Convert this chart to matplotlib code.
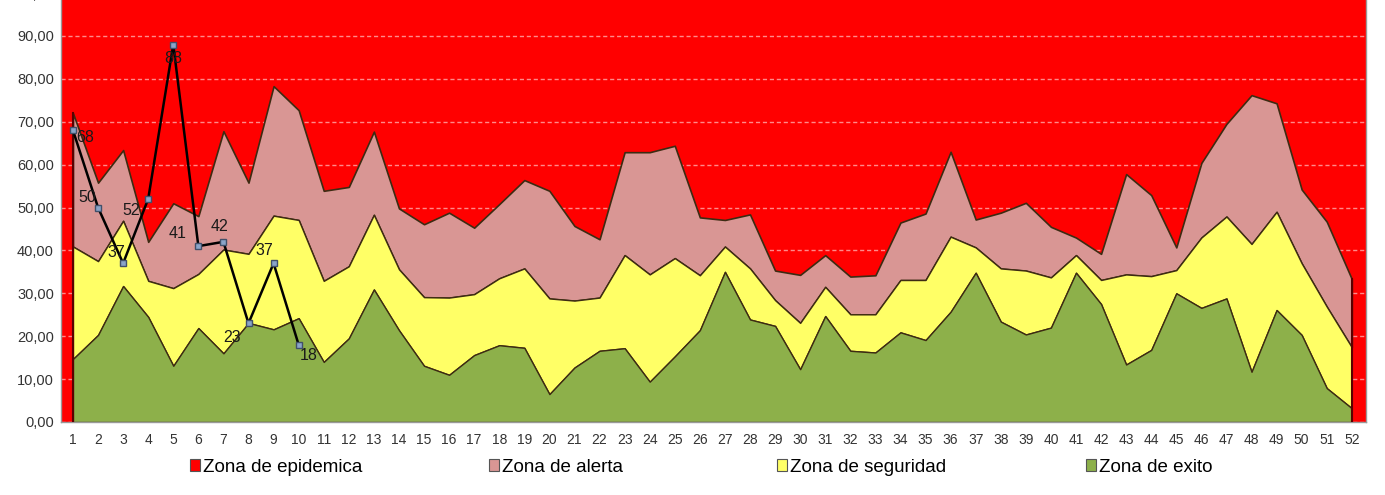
import matplotlib
matplotlib.use("Agg")
import matplotlib.pyplot as plt
from matplotlib.patches import Patch

plt.rcParams['font.family'] = ['Liberation Sans', 'DejaVu Sans']

# semanas epidemiologicas
weeks = list(range(1, 53))

# limites del canal endemico (valores acumulados)
exito = [14.7, 20.3, 31.7, 24.5, 13.1, 21.9, 16.0, 23.1, 21.6, 24.2,
         14.0, 19.5, 30.9, 21.4, 13.1, 11.0, 15.6, 17.9, 17.3, 6.5,
         12.7, 16.6, 17.2, 9.4, 15.3, 21.4, 35.0, 23.9, 22.4, 12.3,
         24.7, 16.6, 16.2, 20.9, 19.1, 25.7, 34.8, 23.4, 20.4, 22.0,
         34.8, 27.5, 13.4, 16.8, 30.0, 26.6, 28.8, 11.7, 26.1, 20.3,
         7.9, 3.2]
seguridad = [40.9, 37.5, 46.9, 32.9, 31.2, 34.5, 40.2, 39.2, 48.1, 47.1,
             32.9, 36.3, 48.3, 35.6, 29.1, 29.0, 29.8, 33.5, 35.8, 28.8,
             28.3, 29.0, 38.9, 34.4, 38.2, 34.2, 40.9, 35.8, 28.4, 23.1,
             31.5, 25.1, 25.1, 33.1, 33.1, 43.2, 40.7, 35.8, 35.3, 33.7,
             38.9, 33.1, 34.4, 34.0, 35.4, 43.0, 47.9, 41.5, 49.0, 37.0,
             26.9, 17.4]
alerta = [72.0, 55.8, 63.4, 42.0, 51.0, 48.0, 67.8, 55.8, 78.3, 72.7,
          53.9, 54.8, 67.7, 49.8, 46.1, 48.8, 45.3, 50.8, 56.4, 53.9,
          45.7, 42.6, 62.9, 62.9, 64.4, 47.7, 47.1, 48.4, 35.3, 34.3,
          38.9, 33.9, 34.2, 46.5, 48.6, 63.0, 47.2, 48.8, 51.1, 45.5,
          43.0, 39.2, 57.8, 52.9, 40.7, 60.4, 69.5, 76.2, 74.3, 54.2,
          46.7, 33.3]

# casos notificados
case_weeks = [1, 2, 3, 4, 5, 6, 7, 8, 9, 10]
casos = [68, 50, 37, 52, 88, 41, 42, 23, 37, 18]

labels = ['Zona de epidemica', 'Zona de alerta', 'Zona de seguridad', 'Zona de exito']
colors = ['#ff0000', '#d99694', '#ffff66', '#8db04a']

fig = plt.figure(figsize=(13.85, 4.95), dpi=100)
ax = fig.add_axes([0.044, 0.1475, 0.942, 0.8665])
ax.set_facecolor(colors[0])

edge = '#3d2b12'
ax.fill_between(weeks, seguridad, alerta, facecolor=colors[1], edgecolor=edge, linewidth=1.2, zorder=2)
ax.fill_between(weeks, exito, seguridad, facecolor=colors[2], edgecolor=edge, linewidth=1.0, zorder=2)
ax.fill_between(weeks, 0, exito, facecolor=colors[3], edgecolor=edge, linewidth=1.0, zorder=2)
ax.plot([1, 1], [0, alerta[0]], color='#5a0000', lw=1.5, zorder=3)
ax.plot([52, 52], [0, alerta[-1]], color='#5a0000', lw=1.5, zorder=3)

ax.plot(case_weeks, casos, color='black', lw=1.8, marker='s', markersize=4,
        markerfacecolor='#8aa4c8', markeredgecolor='#41506a', zorder=5)

# posicion de cada etiqueta (puntos)
offs = [(9, -5), (-8, 7), (-5, 8), (-12, -8), (0, -10), (-15, 9), (-3, 11), (-12, -10), (-7, 9), (7, -8)]
for x, v, (dx, dy) in zip(case_weeks, casos, offs):
    ax.annotate(str(v), (x, v), xytext=(dx, dy), textcoords='offset points',
                ha='center', va='center', fontsize=11.5, color='#1a1a1a', zorder=6)

ax.set_xlim(0.52, 52.55)
ax.set_ylim(0, 100)
ax.set_yticks(range(0, 101, 10))
ax.set_yticklabels([f'{v},00' for v in range(0, 101, 10)])
ax.set_xticks(weeks)
ax.tick_params(axis='x', length=0, labelsize=10, colors='#333333', pad=8)
ax.tick_params(axis='y', length=0, labelsize=10.5, colors='#333333', pad=5)
ax.grid(axis='y', color='#ff8a8a', linestyle=(0, (3, 2)), linewidth=1, zorder=1)
ax.set_axisbelow(True)
for s in ax.spines.values():
    s.set_color('#999999')
    s.set_linewidth(1)

xs = [198, 497, 785, 1094]
for x, lab, c in zip(xs, labels, colors):
    h = Patch(facecolor=c, edgecolor='#555555', linewidth=0.8)
    fig.legend(handles=[h], labels=[lab], loc='center left',
               bbox_to_anchor=(x / 1385 - 0.006, 1 - 467 / 495), frameon=False,
               fontsize=13.5, handlelength=0.55, handleheight=0.55, handletextpad=0.15,
               borderpad=0, borderaxespad=0)

fig.savefig('out.png', dpi=100)
